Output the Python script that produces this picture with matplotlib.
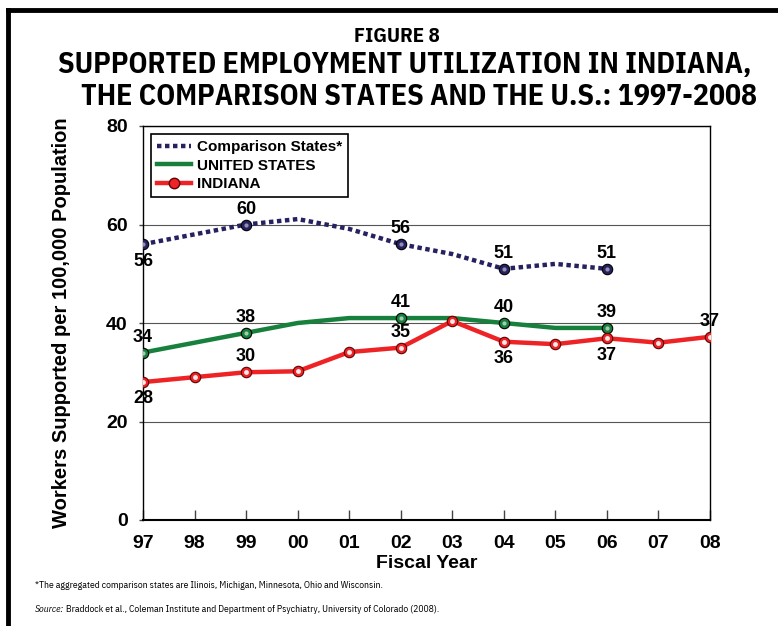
import matplotlib
matplotlib.use("Agg")
import matplotlib.pyplot as plt
from matplotlib.lines import Line2D
from matplotlib import font_manager

years = ["97", "98", "99", "00", "01", "02", "03", "04", "05", "06", "07", "08"]
comparison = [56, 58, 60, 61.1, 59.1, 56, 54, 51, 52, 51]
united_states = [34, 36, 38, 40, 41, 41, 41, 40, 39, 39]
indiana = [28, 29, 30, 30.2, 34.1, 35, 40.4, 36.2, 35.7, 36.9, 36.0, 37.2]

comp_marks = [0, 2, 5, 7, 9]
us_marks = [0, 2, 5, 7, 9]

# (index, text, above?)
comp_labels = [(0, "56", False), (2, "60", True), (5, "56", True), (7, "51", True), (9, "51", True)]
us_labels = [(0, "34", True), (2, "38", True), (5, "41", True), (7, "40", True), (9, "39", True)]
ind_labels = [(0, "28", False), (2, "30", True), (5, "35", True), (7, "36", False), (9, "37", False), (11, "37", True)]

names = {f.name for f in font_manager.fontManager.ttflist}
narrow = None
for cand in ["Liberation Sans Narrow", "Arial Narrow", "IBM Plex Sans Condensed"]:
    if cand in names:
        narrow = cand
        break
plt.rcParams["font.family"] = ["Liberation Sans", "DejaVu Sans"]
if narrow:
    title_fam = [narrow, "Liberation Sans"]
    fig8_size, title_size, note_size = 15, 21.4, 6.9
else:
    title_fam = ["Liberation Sans", "DejaVu Sans"]
    fig8_size, title_size, note_size = 14, 19, 6.3

NAVY = "#262262"
GREEN = "#17803d"
RED = "#ee2326"

fig = plt.figure(figsize=(7.78, 6.26), dpi=100)
ax = fig.add_axes([143 / 778, 1 - 520 / 626, 567 / 778, 394 / 626])

x = list(range(len(years)))

ax.plot(x[:len(comparison)], comparison, color=NAVY, lw=3.2, linestyle=(0, (1, 0.8)),
        dash_capstyle="butt", zorder=3)
ax.plot([x[i] for i in comp_marks], [comparison[i] for i in comp_marks], "o", ms=7.5,
        mfc=NAVY, mec="black", mew=0.8, zorder=4)

ax.plot(x[:len(united_states)], united_states, color=GREEN, lw=3.2, zorder=3)
ax.plot([x[i] for i in us_marks], [united_states[i] for i in us_marks], "o", ms=7.5,
        mfc=GREEN, mec="black", mew=0.8, zorder=4)

ax.plot(x, indiana, color=RED, lw=3.2, zorder=3)
ax.plot(x, indiana, "o", ms=7.5, mfc=RED, mec="#600000", mew=0.8, zorder=4)
# glossy highlight on markers
ax.plot(x, indiana, "o", ms=3.5, mfc="white", mec="none", zorder=5, alpha=0.9)
ax.plot([x[i] for i in us_marks], [united_states[i] for i in us_marks], "o", ms=3,
        mfc="white", mec="none", alpha=0.6, zorder=5)
ax.plot([x[i] for i in comp_marks], [comparison[i] for i in comp_marks], "o", ms=3,
        mfc="white", mec="none", alpha=0.5, zorder=5)


def put_labels(series, labels):
    for i, txt, above in labels:
        ax.annotate(txt, (x[i], series[i]), xytext=(0, 5 if above else -6),
                    textcoords="offset points", ha="center",
                    va="bottom" if above else "top",
                    fontsize=13, fontweight="bold", zorder=6)


put_labels(comparison, comp_labels)
put_labels(united_states, us_labels)
put_labels(indiana, ind_labels)

ax.set_xlim(0, len(years) - 1)
ax.set_ylim(0, 80)
ax.set_yticks([0, 20, 40, 60, 80])
ax.set_xticks(x)
ax.set_xticklabels(years)
ax.tick_params(axis="both", labelsize=14, color="#444444", width=1)
for lab in ax.get_xticklabels() + ax.get_yticklabels():
    lab.set_fontweight("bold")
ax.tick_params(axis="y", direction="out", length=3, pad=8)
ax.tick_params(axis="x", direction="in", length=7, pad=11)
ax.grid(axis="y", color="#555555", lw=0.8)
ax.set_axisbelow(True)
for s in ax.spines.values():
    s.set_color("black")
    s.set_linewidth(1.0)
ax.spines["bottom"].set_linewidth(1.5)

ax.set_xlabel("Fiscal Year", fontsize=14, fontweight="bold", labelpad=2)
ax.set_ylabel("Workers Supported per 100,000 Population", fontsize=14.5,
              fontweight="bold", labelpad=25)

handles = [
    Line2D([], [], color=NAVY, lw=3.2, linestyle=(0, (1, 0.8))),
    Line2D([], [], color=GREEN, lw=3.2),
    Line2D([], [], color=RED, lw=3.2, marker="o", ms=7.5, mfc=RED, mec="#600000"),
]
leg = ax.legend(handles, ["Comparison States*", "UNITED STATES", "INDIANA"],
                loc="upper left", bbox_to_anchor=(0.014, 0.98), borderaxespad=0,
                frameon=True, fancybox=False, edgecolor="black", framealpha=1,
                prop={"weight": "bold", "size": 11}, handlelength=2.2,
                handletextpad=0.4, labelspacing=0.3, borderpad=0.4)
leg.get_frame().set_linewidth(1.2)

fig.text(0.5096, 1 - 37 / 626, "FIGURE 8", ha="center", va="center",
         fontsize=fig8_size, fontweight="bold", family=title_fam)
fig.text(0.5206, 1 - 65 / 626, "SUPPORTED EMPLOYMENT UTILIZATION IN INDIANA,",
         ha="center", va="center", fontsize=title_size, fontweight="bold",
         family=title_fam)
fig.text(0.5386, 1 - 97 / 626, "THE COMPARISON STATES AND THE U.S.: 1997-2008",
         ha="center", va="center", fontsize=title_size, fontweight="bold",
         family=title_fam)

fig.text(35 / 778, 1 - 586 / 626,
         "*The aggregated comparison states are Ilinois, Michigan, Minnesota, Ohio and Wisconsin.",
         ha="left", va="center", fontsize=note_size, family=title_fam)
src = fig.text(35 / 778, 1 - 609 / 626, "Source:", ha="left", va="center",
               fontsize=note_size, style="italic", family=title_fam)
fig.canvas.draw()
bb = src.get_window_extent()
fig.text(bb.x1 / fig.bbox.width, 1 - 609 / 626,
         " Braddock et al., Coleman Institute and Department of Psychiatry, University of Colorado (2008).",
         ha="left", va="center", fontsize=note_size, family=title_fam)

# page frame
fig.add_artist(Line2D([8 / 778, 1.0], [1 - 10 / 626, 1 - 10 / 626], color="black", lw=3.5,
                      transform=fig.transFigure))
fig.add_artist(Line2D([8 / 778, 8 / 778], [1 - 10 / 626, 0], color="black", lw=3.5,
                      transform=fig.transFigure))

fig.savefig("out.png", dpi=100)
